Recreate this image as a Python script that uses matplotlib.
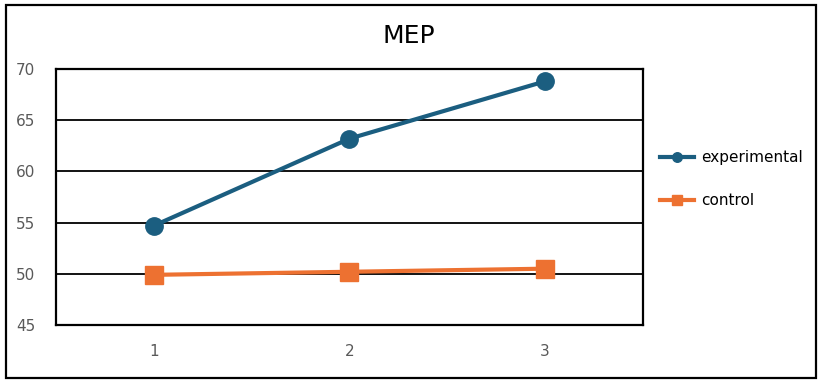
import matplotlib.pyplot as plt
from matplotlib.patches import Rectangle

# data
sessions = [1, 2, 3]
experimental = [54.7, 63.2, 68.8]
control = [49.9, 50.2, 50.5]
y_ticks = [45, 50, 55, 60, 65, 70]

blue = '#1B5E80'
orange = '#ED7131'
grey = '#595959'

plt.rcParams['font.family'] = ['DejaVu Sans Condensed', 'DejaVu Sans']

fig = plt.figure(figsize=(8.22, 3.84), dpi=100)
ax = fig.add_axes([0.0681, 0.1536, 0.7141, 0.6667])

# outer chart border
fig.patches.append(Rectangle((0.007, 0.016), 0.986, 0.97, transform=fig.transFigure,
                             fill=False, edgecolor='black', linewidth=1.6))

ax.plot(sessions, experimental, color=blue, linewidth=3, marker='o',
        markersize=12.5, label='experimental', zorder=3)
ax.plot(sessions, control, color=orange, linewidth=3, marker='s',
        markersize=12.5, label='control', zorder=3)

ax.set_xlim(0.5, 3.5)
ax.set_ylim(45, 70)
ax.set_xticks(sessions)
ax.set_yticks(y_ticks)
ax.grid(axis='y', color='black', linewidth=1.3)
ax.set_axisbelow(True)
for s in ax.spines.values():
    s.set_linewidth(1.6)
    s.set_color('black')
ax.tick_params(length=0, colors=grey, labelsize=11)
ax.tick_params(axis='x', pad=14)
ax.tick_params(axis='y', pad=15)

fig.text(0.4976, 0.906, 'MEP', ha='center', va='center', fontsize=18, color='black')

leg = ax.legend(loc='center left', bbox_to_anchor=(1.006, 0.57), frameon=False,
                fontsize=11, handlelength=2.2, handletextpad=0.45, labelspacing=1.85,
                markerscale=0.55)

fig.savefig('out.png', dpi=100)
